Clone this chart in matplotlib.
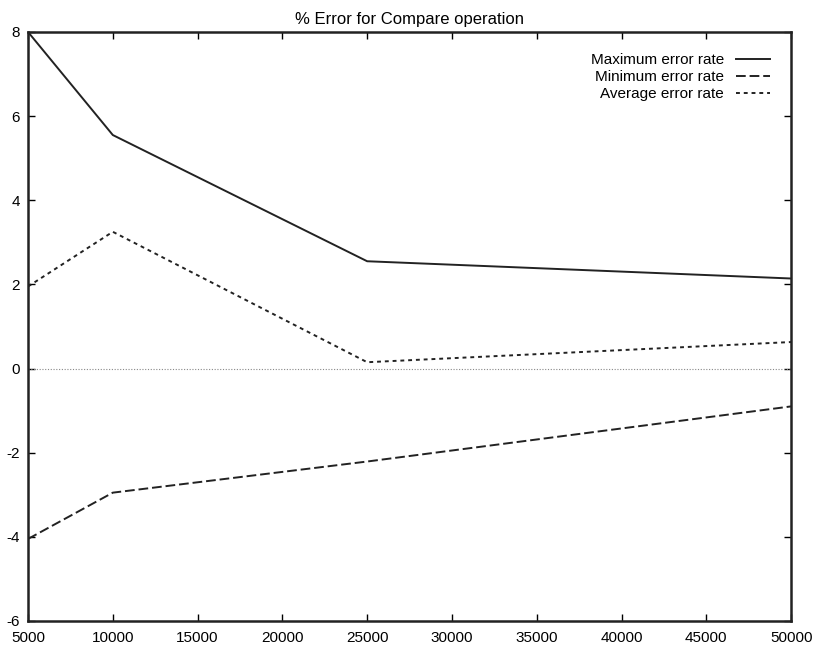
import matplotlib
matplotlib.use("Agg")
import matplotlib.pyplot as plt

# values
sizes = [5000, 10000, 25000, 50000]
max_err = [8.0, 5.55, 2.55, 2.14]
min_err = [-4.05, -2.95, -2.21, -0.9]
avg_err = [1.95, 3.25, 0.15, 0.63]

plt.rcParams['font.family'] = ['Liberation Sans', 'DejaVu Sans']
plt.rcParams['axes.unicode_minus'] = False

fig = plt.figure(figsize=(8.17, 6.48), dpi=100)
ax = fig.add_axes([0.0343, 0.0417, 0.934, 0.909])

ax.plot(sizes, max_err, color='#222222', lw=1.4, ls='-', label='Maximum error rate')
ax.plot(sizes, min_err, color='#222222', lw=1.4, ls=(0, (5, 2)), label='Minimum error rate')
ax.plot(sizes, avg_err, color='#222222', lw=1.4, ls=(0, (2, 2)), label='Average error rate')
ax.axhline(0, color='#888888', lw=0.8, ls=(0, (1, 1.5)))

ax.set_xlim(5000, 50000)
ax.set_ylim(-6, 8)
ax.set_xticks(range(5000, 50001, 5000))
ax.set_yticks(range(-6, 9, 2))
ax.tick_params(direction='in', top=True, right=True, length=5, labelsize=11, width=1)
ax.tick_params(axis='x', pad=7)
ax.tick_params(axis='y', pad=6)
for s in ax.spines.values():
    s.set_linewidth(1.8)
    s.set_color('#222222')

ax.set_title('% Error for Compare operation', fontsize=12, pad=6)
ax.legend(loc='upper right', frameon=False, markerfirst=False, fontsize=11,
          handlelength=2.2, labelspacing=0.2, borderaxespad=1.0)

fig.savefig('out.png', dpi=100)
